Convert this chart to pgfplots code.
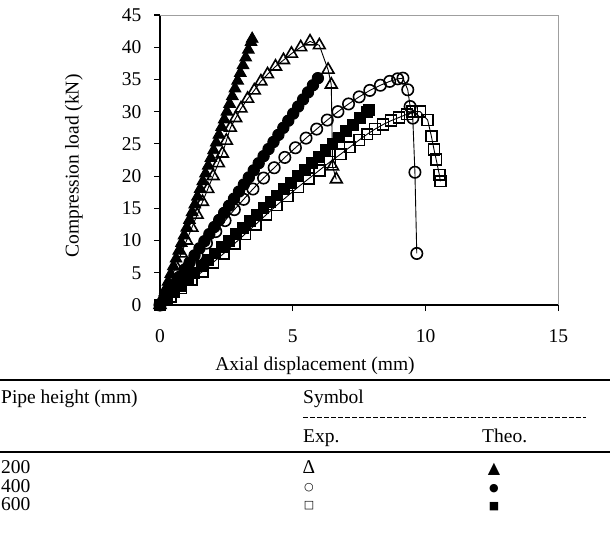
\documentclass[border=0pt]{standalone}
\usepackage{pgfplots}
\pgfplotsset{compat=1.18}
\usepackage{fontspec}
\setmainfont{Liberation Serif}
\newfontfamily\symfont{DejaVu Sans}

\newcommand{\chartfont}{\fontsize{19.5}{23}\selectfont}

\begin{document}
\begin{tikzpicture}[font=\chartfont]
\path[use as bounding box] (0pt,0pt) rectangle (610pt,-542pt);

\begin{axis}[
  at={(160pt,-305pt)}, anchor=south west,
  scale only axis, width=398.3pt, height=290pt,
  xmin=0, xmax=15, ymin=0, ymax=45,
  xtick={0,5,10,15}, ytick={0,5,...,45},
  axis x line*=bottom, axis y line*=left,
  axis line style={line width=1.4pt, black},
  tick align=outside, major tick length=6pt,
  tick style={line width=1.2pt, black},
  tick label style={font=\chartfont},
  xticklabel style={yshift=-15pt},
  yticklabel style={xshift=-9pt},
  /pgf/number format/assume math mode=true,
  clip=false,
  exp/.style={black, line width=0.9pt, mark options={solid, line width=1.6pt, fill=none}},
  theo/.style={black, line width=0.9pt, mark options={solid, fill=black}},
]
% top and right frame in grey
\draw[gray!75, line width=1pt] (rel axis cs:0,1) -- (rel axis cs:1,1) -- (rel axis cs:1,0);

% Theoretical, 600 mm
\addplot[theo, mark=square*, mark size=5.4pt] coordinates {
(0,0) (0.260,1) (0.519,2) (0.779,3) (1.039,4) (1.299,5) (1.558,6) (1.818,7)
(2.078,8) (2.338,9) (2.597,10) (2.857,11) (3.117,12) (3.377,13) (3.636,14)
(3.896,15) (4.156,16) (4.416,17) (4.675,18) (4.935,19) (5.195,20) (5.455,21)
(5.714,22) (5.974,23) (6.234,24) (6.494,25) (6.753,26) (7.013,27) (7.273,28)
(7.532,29) (7.792,30) (7.870,30.3)
};
% Theoretical, 400 mm
\addplot[theo, mark=*, mark size=5.7pt] coordinates {
(0,0) (0.186,1.1) (0.372,2.2) (0.557,3.3) (0.743,4.4) (0.929,5.5) (1.115,6.6)
(1.301,7.7) (1.486,8.8) (1.672,9.9) (1.858,11.0) (2.044,12.1) (2.230,13.2)
(2.416,14.3) (2.601,15.4) (2.787,16.5) (2.973,17.6) (3.159,18.7) (3.345,19.8)
(3.530,20.9) (3.716,22.0) (3.902,23.1) (4.088,24.2) (4.274,25.3) (4.459,26.4)
(4.645,27.5) (4.831,28.6) (5.017,29.7) (5.203,30.8) (5.389,31.9) (5.574,33.0)
(5.760,34.1) (5.946,35.2)
};
% Theoretical, 200 mm
\addplot[theo, mark=triangle*, mark size=6.8pt] coordinates {
(0,0) (0.101,1.2) (0.202,2.4) (0.303,3.6) (0.403,4.8) (0.504,6.0) (0.605,7.2)
(0.706,8.4) (0.807,9.6) (0.908,10.8) (1.008,12.0) (1.109,13.2) (1.210,14.4)
(1.311,15.6) (1.412,16.8) (1.513,18.0) (1.613,19.2) (1.714,20.4) (1.815,21.6)
(1.916,22.8) (2.017,24.0) (2.118,25.2) (2.218,26.4) (2.319,27.6) (2.420,28.8)
(2.521,30.0) (2.622,31.2) (2.723,32.4) (2.824,33.6) (2.924,34.8) (3.025,36.0)
(3.126,37.2) (3.227,38.4) (3.328,39.6) (3.429,40.8) (3.471,41.3)
};

% Experimental, 600 mm
\addplot[exp, mark=square, mark size=5.4pt] coordinates {
(0,0) (0.4,1.3) (0.8,2.6) (1.2,3.9) (1.6,5.2) (2.0,6.6) (2.4,8.0) (2.8,9.5)
(3.2,11.0) (3.6,12.5) (4.0,14.0) (4.4,15.5) (4.8,16.9) (5.2,18.3) (5.6,19.6)
(6.0,20.9) (6.4,22.2) (6.8,23.4) (7.15,24.5) (7.5,25.6) (7.8,26.5) (8.1,27.3)
(8.4,28.0) (8.7,28.6) (9.0,29.1) (9.3,29.6) (9.5,30.0) (9.8,30.0) (10.08,28.7)
(10.22,26.2) (10.32,24.1) (10.4,22.6) (10.52,20.2) (10.56,19.2)
};
% Experimental, 400 mm
\addplot[exp, mark=o, mark size=5.7pt] coordinates {
(0,0) (0.35,1.9) (0.7,3.9) (1.05,5.8) (1.4,7.7) (1.75,9.6) (2.1,11.4)
(2.45,13.1) (2.8,14.8) (3.15,16.4) (3.5,18.0) (3.9,19.7) (4.3,21.3) (4.7,22.9)
(5.1,24.4) (5.5,25.9) (5.9,27.3) (6.3,28.7) (6.7,30.0) (7.1,31.2) (7.5,32.3)
(7.9,33.3) (8.3,34.1) (8.65,34.7) (8.95,35.1) (9.15,35.2) (9.33,33.4)
(9.42,30.8) (9.52,29.0) (9.6,20.6) (9.67,8.0)
};
% Experimental, 200 mm
\addplot[exp, mark=triangle, mark size=6.8pt] coordinates {
(0,0) (0.2,2) (0.4,4) (0.6,6) (0.8,8) (1.0,10) (1.2,12) (1.4,14) (1.6,16)
(1.8,18) (2.0,20) (2.2,22) (2.35,23.5) (2.5,25.5) (2.65,27.5) (2.85,29)
(3.05,30.5) (3.3,32) (3.55,33.3) (3.8,34.7) (4.05,35.8) (4.35,37) (4.65,38)
(4.95,39) (5.3,40) (5.65,40.9) (6.0,40.3) (6.33,36.5) (6.45,34.2) (6.5,21.5)
(6.64,19.5)
};
\end{axis}

% axis titles
\node at (315pt,-366pt) {Axial displacement (mm)};
\node[rotate=90] at (74pt,-166pt) {Compression load (kN)};

% symbol table
\draw[line width=2pt] (0pt,-380pt) -- (610pt,-380pt);
\node[anchor=base west, inner sep=0pt] at (1pt,-403pt) {Pipe height (mm)};
\node[anchor=base west, inner sep=0pt] at (303pt,-403pt) {Symbol};
\draw[line width=1pt, dash pattern=on 5pt off 2pt] (303pt,-417pt) -- (586pt,-417pt);
\node[anchor=base west, inner sep=0pt] at (303pt,-442pt) {Exp.};
\node[anchor=base west, inner sep=0pt] at (482pt,-442pt) {Theo.};
\draw[line width=2.2pt] (0pt,-452pt) -- (610pt,-452pt);
\node[anchor=base west, inner sep=0pt] at (1pt,-473pt) {200};
\node[anchor=base west, inner sep=0pt] at (1pt,-492pt) {400};
\node[anchor=base west, inner sep=0pt] at (1pt,-510pt) {600};
\node[anchor=base, inner sep=0pt] at (309pt,-473pt) {Δ};
\node[anchor=base, inner sep=0pt] at (309pt,-490pt) {\symfont\fontsize{11}{13}\selectfont ○};
\node[anchor=base, inner sep=0pt] at (309pt,-508pt) {\symfont\fontsize{11}{13}\selectfont □};
\node[anchor=base, inner sep=0pt] at (494pt,-473pt) {\symfont\fontsize{16}{18}\selectfont ▲};
\node[anchor=base, inner sep=0pt] at (494pt,-491pt) {\symfont\fontsize{11}{13}\selectfont ●};
\node[anchor=base, inner sep=0pt] at (494pt,-509pt) {\symfont\fontsize{11}{13}\selectfont ■};
\end{tikzpicture}
\end{document}
